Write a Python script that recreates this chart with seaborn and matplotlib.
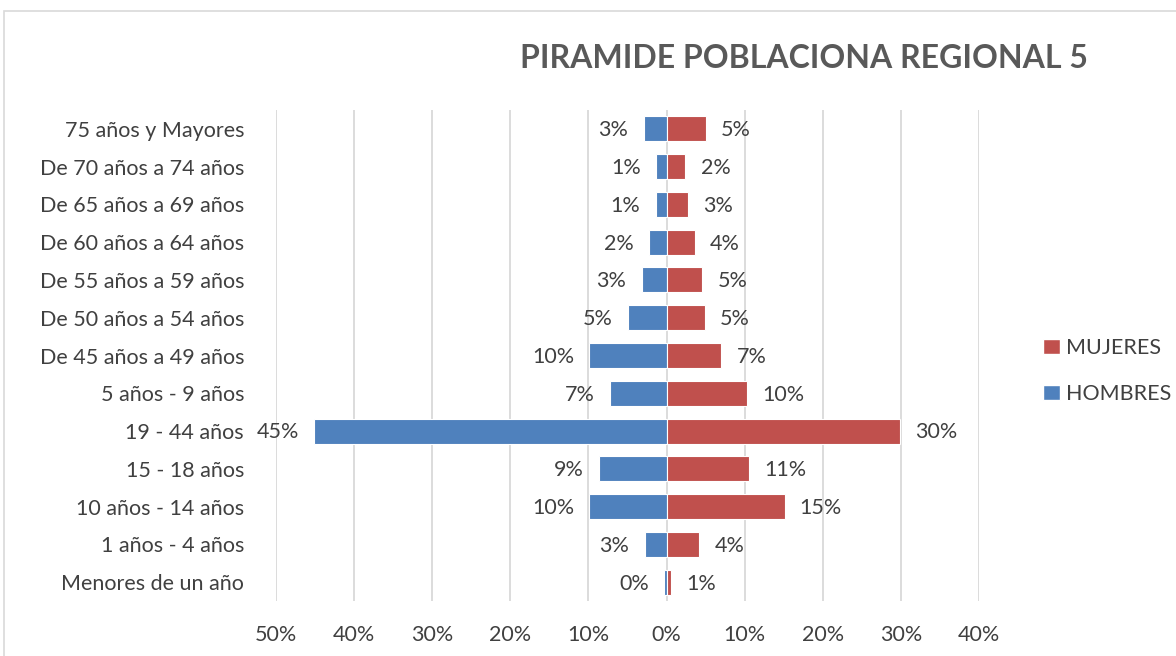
import matplotlib
matplotlib.use("Agg")
import matplotlib.pyplot as plt
import seaborn as sns
import pandas as pd
from matplotlib.patches import Patch, Rectangle
from matplotlib.ticker import FixedLocator

categorias = ["75 años y Mayores", "De 70 años a 74 años", "De 65 años a 69 años",
              "De 60 años a 64 años", "De 55 años a 59 años", "De 50 años a 54 años",
              "De 45 años a 49 años", "5 años - 9 años", "19 - 44 años", "15 - 18 años",
              "10 años - 14 años", "1 años - 4 años", "Menores de un año"]
hombres = [2.95, 1.3, 1.4, 2.3, 3.2, 5.0, 9.9, 7.3, 45.1, 8.6, 9.9, 2.8, 0.3]
mujeres = [5.0, 2.4, 2.7, 3.6, 4.6, 4.9, 7.0, 10.3, 29.9, 10.6, 15.1, 4.2, 0.6]
ticks = [-50, -40, -30, -20, -10, 0, 10, 20, 30, 40]
tick_labels = ["50%", "40%", "30%", "20%", "10%", "0%", "10%", "20%", "30%", "40%"]

sns.set_theme(style="white")
plt.rcParams['font.family'] = ['Lato', 'DejaVu Sans']

azul = "#4F81BD"
rojo = "#C0504D"
gris_txt = "#404040"
fs = 15.5

df = pd.DataFrame({
    "grupo": categorias * 2,
    "sexo": ["HOMBRES"] * len(categorias) + ["MUJERES"] * len(categorias),
    "valor": [-v for v in hombres] + mujeres,
})

fig = plt.figure(figsize=(11.76, 6.56), dpi=100)
ax = fig.add_axes([276 / 1176, 1 - 601 / 656, (979 - 276) / 1176, (601 - 110) / 656])

sns.barplot(data=df, y="grupo", x="valor", hue="sexo", order=categorias,
            hue_order=["HOMBRES", "MUJERES"], palette={"HOMBRES": azul, "MUJERES": rojo},
            dodge=False, orient="h", width=0.66, edgecolor="white", linewidth=0.8,
            saturation=1, ax=ax, legend=False, zorder=3)

ax.set_xlim(-50, 40)
ax.set_ylim(len(categorias) - 0.5, -0.5)
ax.xaxis.set_major_locator(FixedLocator(ticks))
ax.set_xticklabels(tick_labels)
ax.grid(axis="x", color="#D9D9D9", linewidth=1.3, zorder=0)
ax.grid(axis="y", visible=False)
ax.set_axisbelow(True)
for s in ax.spines.values():
    s.set_visible(False)
ax.set_xlabel("")
ax.set_ylabel("")
ax.tick_params(axis="x", labelsize=fs, colors=gris_txt, length=0, pad=17)
ax.tick_params(axis="y", labelsize=fs, colors=gris_txt, length=0, pad=23)

for i, (h, m) in enumerate(zip(hombres, mujeres)):
    ax.annotate(f"{round(h):.0f}%", xy=(-h, i), xytext=(-11, -1), textcoords="offset points",
                ha="right", va="center", fontsize=fs, color=gris_txt)
    ax.annotate(f"{round(m):.0f}%", xy=(m, i), xytext=(11, -1), textcoords="offset points",
                ha="left", va="center", fontsize=fs, color=gris_txt)

fig.text(804 / 1176, 1 - 58 / 656, "PIRAMIDE POBLACIONA REGIONAL 5", ha="center", va="center",
         fontsize=23, fontweight="bold", color="#595959")

handles = [Patch(facecolor=rojo, label="MUJERES"), Patch(facecolor=azul, label="HOMBRES")]
fig.legend(handles=handles, loc="center left", bbox_to_anchor=(1024 / 1176, 1 - 371 / 656),
           frameon=False, fontsize=fs, labelcolor=gris_txt, handlelength=0.75, handleheight=0.75,
           handletextpad=0.3, labelspacing=1.2)

fig.patches.append(Rectangle((4 / 1176, -0.1), 1.2, 1 - 11 / 656 + 0.1, transform=fig.transFigure,
                             fill=False, edgecolor="#D9D9D9", linewidth=1.2))

fig.savefig("out.png", dpi=100)
